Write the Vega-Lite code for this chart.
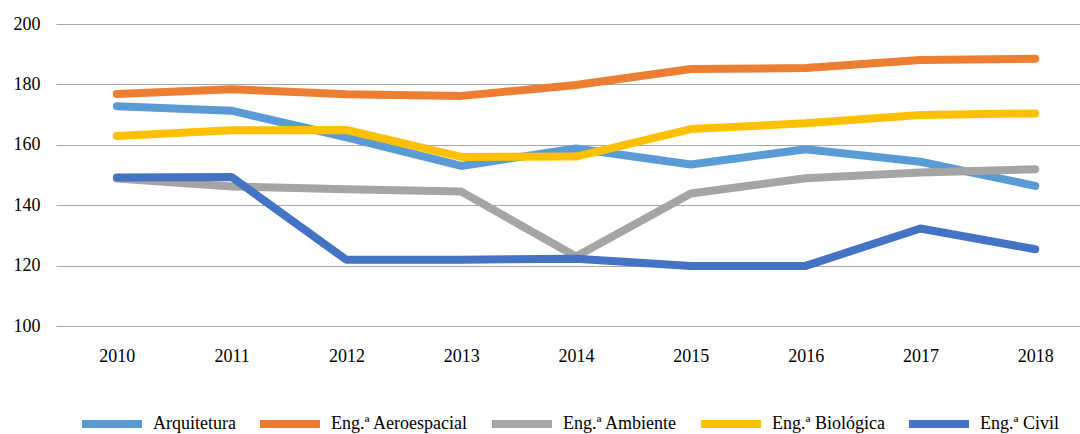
{
  "$schema": "https://vega.github.io/schema/vega-lite/v6.json",
  "width": 1024,
  "height": 302,
  "autosize": "none",
  "padding": {"left": 56, "top": 24, "right": 0, "bottom": 108},
  "background": "white",
  "config": {
    "font": "Liberation Serif",
    "view": {"stroke": null},
    "axis": {"labelFont": "Liberation Serif"},
    "legend": {"labelFont": "Liberation Serif"}
  },
  "data": {
    "values": [
      {"ano": 2010, "curso": "Arquitetura", "valor": 172.8},
      {"ano": 2011, "curso": "Arquitetura", "valor": 171.3},
      {"ano": 2012, "curso": "Arquitetura", "valor": 162.5},
      {"ano": 2013, "curso": "Arquitetura", "valor": 153.0},
      {"ano": 2014, "curso": "Arquitetura", "valor": 158.8},
      {"ano": 2015, "curso": "Arquitetura", "valor": 153.5},
      {"ano": 2016, "curso": "Arquitetura", "valor": 158.5},
      {"ano": 2017, "curso": "Arquitetura", "valor": 154.4},
      {"ano": 2018, "curso": "Arquitetura", "valor": 146.4},
      {"ano": 2010, "curso": "Eng.ª Aeroespacial", "valor": 176.8},
      {"ano": 2011, "curso": "Eng.ª Aeroespacial", "valor": 178.4},
      {"ano": 2012, "curso": "Eng.ª Aeroespacial", "valor": 176.7},
      {"ano": 2013, "curso": "Eng.ª Aeroespacial", "valor": 176.2},
      {"ano": 2014, "curso": "Eng.ª Aeroespacial", "valor": 179.8},
      {"ano": 2015, "curso": "Eng.ª Aeroespacial", "valor": 185.1},
      {"ano": 2016, "curso": "Eng.ª Aeroespacial", "valor": 185.4},
      {"ano": 2017, "curso": "Eng.ª Aeroespacial", "valor": 188.1},
      {"ano": 2018, "curso": "Eng.ª Aeroespacial", "valor": 188.5},
      {"ano": 2010, "curso": "Eng.ª Ambiente", "valor": 148.8},
      {"ano": 2011, "curso": "Eng.ª Ambiente", "valor": 146.2},
      {"ano": 2012, "curso": "Eng.ª Ambiente", "valor": 145.3},
      {"ano": 2013, "curso": "Eng.ª Ambiente", "valor": 144.5},
      {"ano": 2014, "curso": "Eng.ª Ambiente", "valor": 123.0},
      {"ano": 2015, "curso": "Eng.ª Ambiente", "valor": 143.9},
      {"ano": 2016, "curso": "Eng.ª Ambiente", "valor": 148.9},
      {"ano": 2017, "curso": "Eng.ª Ambiente", "valor": 150.8},
      {"ano": 2018, "curso": "Eng.ª Ambiente", "valor": 151.9},
      {"ano": 2010, "curso": "Eng.ª Biológica", "valor": 162.9},
      {"ano": 2011, "curso": "Eng.ª Biológica", "valor": 164.8},
      {"ano": 2012, "curso": "Eng.ª Biológica", "valor": 164.9},
      {"ano": 2013, "curso": "Eng.ª Biológica", "valor": 156.0},
      {"ano": 2014, "curso": "Eng.ª Biológica", "valor": 156.1},
      {"ano": 2015, "curso": "Eng.ª Biológica", "valor": 165.2},
      {"ano": 2016, "curso": "Eng.ª Biológica", "valor": 167.1},
      {"ano": 2017, "curso": "Eng.ª Biológica", "valor": 169.9},
      {"ano": 2018, "curso": "Eng.ª Biológica", "valor": 170.4},
      {"ano": 2010, "curso": "Eng.ª Civil", "valor": 149.2},
      {"ano": 2011, "curso": "Eng.ª Civil", "valor": 149.3},
      {"ano": 2012, "curso": "Eng.ª Civil", "valor": 121.9},
      {"ano": 2013, "curso": "Eng.ª Civil", "valor": 121.9},
      {"ano": 2014, "curso": "Eng.ª Civil", "valor": 122.3},
      {"ano": 2015, "curso": "Eng.ª Civil", "valor": 119.9},
      {"ano": 2016, "curso": "Eng.ª Civil", "valor": 119.9},
      {"ano": 2017, "curso": "Eng.ª Civil", "valor": 132.3},
      {"ano": 2018, "curso": "Eng.ª Civil", "valor": 125.4}
    ]
  },
  "mark": {"type": "line", "strokeWidth": 8, "strokeCap": "round", "strokeJoin": "round"},
  "encoding": {
    "x": {
      "field": "ano",
      "type": "quantitative",
      "scale": {"domain": [2009.47, 2018.39], "nice": false, "zero": false},
      "axis": {
        "values": [2010, 2011, 2012, 2013, 2014, 2015, 2016, 2017, 2018],
        "format": "d",
        "grid": false,
        "domain": false,
        "ticks": false,
        "tickSize": 0,
        "labelPadding": 21,
        "labelFont": "Liberation Serif",
        "labelFontSize": 18,
        "labelColor": "#000000",
        "labelFlush": false,
        "labelOverlap": false,
        "title": null
      }
    },
    "y": {
      "field": "valor",
      "type": "quantitative",
      "scale": {"domain": [100, 200], "nice": false, "zero": false},
      "axis": {
        "values": [100, 120, 140, 160, 180, 200],
        "grid": true,
        "gridColor": "#A6A6A6",
        "gridWidth": 1,
        "domain": false,
        "ticks": false,
        "tickSize": 0,
        "labelPadding": 16,
        "labelFont": "Liberation Serif",
        "labelFontSize": 18,
        "labelColor": "#000000",
        "title": null
      }
    },
    "color": {
      "field": "curso",
      "type": "nominal",
      "scale": {
        "domain": ["Arquitetura", "Eng.ª Aeroespacial", "Eng.ª Ambiente", "Eng.ª Biológica", "Eng.ª Civil"],
        "range": ["#5B9BD5", "#ED7D31", "#A5A5A5", "#FFC000", "#4472C4"]
      },
      "legend": {
        "title": null,
        "orient": "none",
        "legendX": 22,
        "legendY": 366,
        "direction": "horizontal",
        "symbolType": "stroke",
        "symbolSize": 3600,
        "symbolStrokeWidth": 8,
        "labelFont": "Liberation Serif",
        "labelFontSize": 18,
        "labelColor": "#000000",
        "labelOffset": 7,
        "columnPadding": 8
      }
    }
  }
}
